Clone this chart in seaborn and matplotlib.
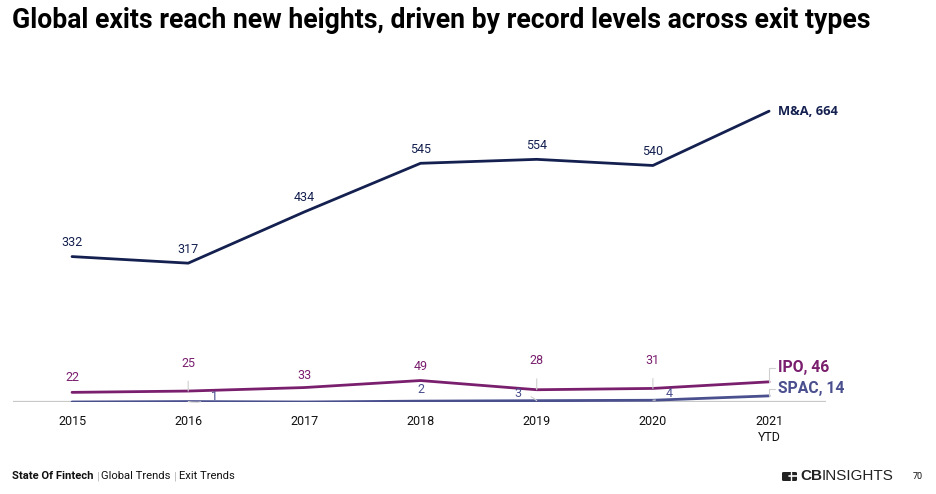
import matplotlib
matplotlib.use("Agg")
import matplotlib.pyplot as plt
from matplotlib.patches import FancyBboxPatch
from matplotlib.lines import Line2D
import seaborn as sns
import pandas as pd

years = ["2015", "2016", "2017", "2018", "2019", "2020", "2021\nYTD"]
ma = [332, 317, 434, 545, 554, 540, 664]
ipo = [22, 25, 33, 49, 28, 31, 46]
spac = [0, 1, 0, 2, 3, 4, 14]

series_names = ["M&A", "IPO", "SPAC"]
colors = {"M&A": "#14204f", "IPO": "#7a1f6e", "SPAC": "#4a4f8e"}

df = pd.DataFrame({
    "idx": list(range(len(years))) * 3,
    "value": ma + ipo + spac,
    "type": ["M&A"] * 7 + ["IPO"] * 7 + ["SPAC"] * 7,
})

sns.set_theme(style="white")
plt.rcParams["font.family"] = ["Roboto", "DejaVu Sans"]

W, H = 936, 494
fig = plt.figure(figsize=(W / 100, H / 100), dpi=100)
ax = fig.add_axes([13 / W, 92 / H, 813 / W, 306.6 / H])

# baseline axis
ax.axhline(0, color="#c8c8c8", lw=1.6, zorder=1)

sns.lineplot(data=df, x="idx", y="value", hue="type", palette=colors,
             hue_order=series_names, lw=2.0, ax=ax, legend=False, zorder=3)

ax.set_xlim(-0.508, 6.49)
ax.set_ylim(0, 700)
ax.set_xticks(range(len(years)))
ax.set_xticklabels(years, fontsize=9, color="#111111", linespacing=1.3)
ax.tick_params(axis="x", length=0, pad=9)
ax.set_yticks([])
ax.set_xlabel("")
ax.set_ylabel("")
for s in ax.spines.values():
    s.set_visible(False)

lead = "#cfcfcf"

# M&A labels
for i, v in enumerate(ma[:-1]):
    ax.annotate(str(v), (i, v), xytext=(0, 14), textcoords="offset pixels",
                ha="center", va="center", fontsize=9, color=colors["M&A"])
ax.annotate(f"M&A, {ma[-1]}", (6, ma[-1]), xytext=(9, 0), textcoords="offset pixels",
            ha="left", va="center", fontsize=9.3, fontweight="bold",
            color=colors["M&A"], family=["Open Sans", "DejaVu Sans"])

# IPO labels (offsets in pixels)
ipo_off = [(0, 15), (0, 28), (0, 12), (0, 14), (0, 29), (0, 28)]
for i, (v, off) in enumerate(zip(ipo[:-1], ipo_off)):
    kw = {}
    if off[1] > 20:
        kw = dict(arrowprops=dict(arrowstyle="-", color=lead, lw=0.8,
                                  shrinkA=6, shrinkB=0))
    ax.annotate(str(v), (i, v), xytext=off, textcoords="offset pixels",
                ha="center", va="center", fontsize=9, color=colors["IPO"], **kw)
ax.annotate(f"IPO, {ipo[-1]}", (6, ipo[-1]), xytext=(9, 14), textcoords="offset pixels",
            ha="left", va="center", fontsize=11.3, fontweight="bold",
            color=colors["IPO"],
            arrowprops=dict(arrowstyle="-", color=lead, lw=0.8, shrinkA=0, shrinkB=0,
                            connectionstyle="angle,angleA=0,angleB=90,rad=0",
                            relpos=(0, 0.5)))

# SPAC labels: index -> pixel offset
spac_lead = {1: (26, 5), 4: (-19, 7), 5: (16, 7)}
for i, off in spac_lead.items():
    ax.annotate(str(spac[i]), (i, spac[i]), xytext=off, textcoords="offset pixels",
                ha="center", va="center", fontsize=9, color=colors["SPAC"],
                arrowprops=dict(arrowstyle="-", color=lead, lw=0.8,
                                shrinkA=5, shrinkB=0,
                                connectionstyle="arc3,rad=-0.2"))
ax.annotate(str(spac[3]), (3, spac[3]), xytext=(0, 12), textcoords="offset pixels",
            ha="center", va="center", fontsize=9, color=colors["SPAC"])
ax.annotate(f"SPAC, {spac[-1]}", (6, spac[-1]), xytext=(9, 7), textcoords="offset pixels",
            ha="left", va="center", fontsize=11.3, fontweight="bold",
            color=colors["SPAC"],
            arrowprops=dict(arrowstyle="-", color=lead, lw=0.8, shrinkA=0, shrinkB=0,
                            connectionstyle="angle,angleA=0,angleB=90,rad=0",
                            relpos=(0, 0.5)))

# title
fig.text(12 / W, 1 - 20 / H, "Global exits reach new heights, driven by record levels across exit types",
         ha="left", va="center", fontsize=19.2, fontweight="bold", color="#000000")

# footer
fy = 1 - 476 / H
fs = 8.1
t1 = fig.text(12 / W, fy, "State Of Fintech", ha="left", va="center",
              fontsize=fs, fontweight="bold", color="#111111")
fig.canvas.draw()
x = t1.get_window_extent().x1 / W
t2 = fig.text(x + 3 / W, fy, "|", ha="left", va="center", fontsize=fs, color="#bbbbbb")
fig.canvas.draw()
x = t2.get_window_extent().x1 / W
t3 = fig.text(x + 2 / W, fy, "Global Trends", ha="left", va="center", fontsize=fs, color="#111111")
fig.canvas.draw()
x = t3.get_window_extent().x1 / W
t4 = fig.text(x + 3 / W, fy, "|", ha="left", va="center", fontsize=fs, color="#bbbbbb")
fig.canvas.draw()
x = t4.get_window_extent().x1 / W
fig.text(x + 2 / W, fy, "Exit Trends", ha="left", va="center", fontsize=fs, color="#111111")

# logo
icon = FancyBboxPatch((782 / W, (H - 481) / H), 15 / W, 9 / H,
                      boxstyle="round,pad=0,rounding_size=0.002",
                      transform=fig.transFigure, facecolor="#222222", edgecolor="none")
fig.add_artist(icon)
fig.add_artist(Line2D([789 / W, 797 / W], [fy, fy], transform=fig.transFigure,
                      color="white", lw=1.2))
fig.add_artist(Line2D([790.5 / W, 790.5 / W], [(H - 481) / H, (H - 472) / H],
                      transform=fig.transFigure, color="white", lw=1.0))
t5 = fig.text(800 / W, fy, "CB", ha="left", va="center", fontsize=11, fontweight="bold",
              color="#222222", family=["Liberation Sans", "DejaVu Sans"])
fig.canvas.draw()
x = t5.get_window_extent().x1 / W
fig.text(x, fy, "INSIGHTS", ha="left", va="center", fontsize=11, color="#222222",
         family=["Liberation Sans", "DejaVu Sans"])
fig.text(918 / W, fy, "70", ha="center", va="center", fontsize=6.5, color="#111111")

fig.savefig("out.png", dpi=100)
